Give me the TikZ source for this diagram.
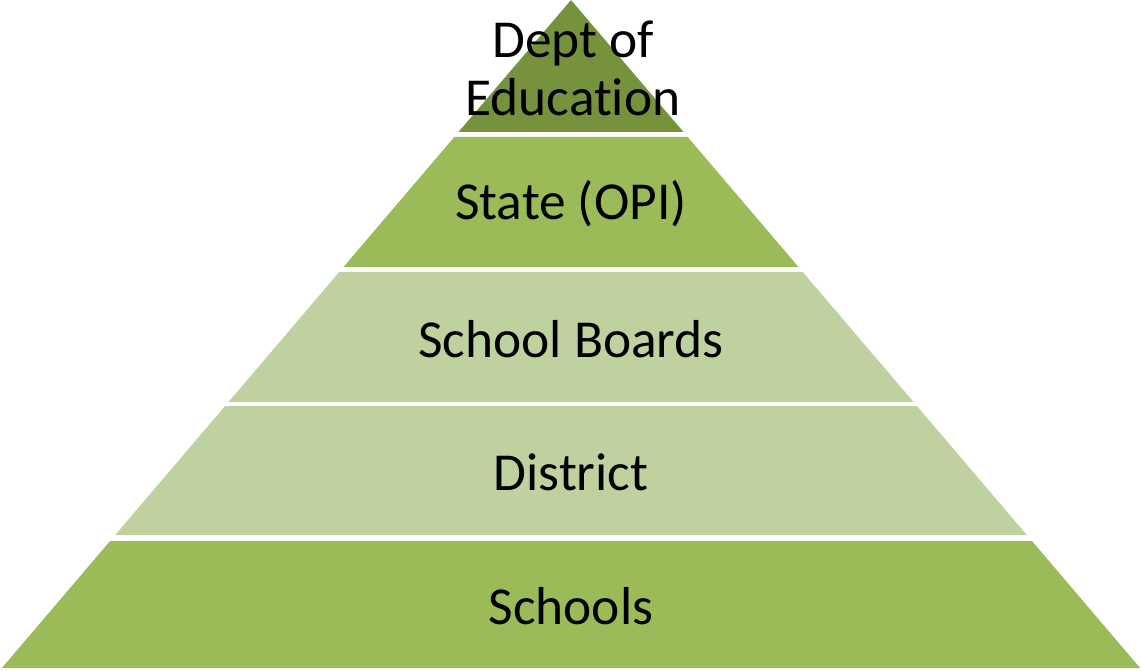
\documentclass[tikz,border=0pt]{standalone}
\usepackage{fontspec}
\setmainfont[Ligatures=NoCommon]{Carlito}
\definecolor{darkolive}{HTML}{76923C}
\definecolor{olive}{HTML}{9BBB59}
\definecolor{lightolive}{HTML}{BED19F}
\tikzset{
  lbl/.style={font=\fontsize{53.4}{58}\selectfont, text=black, align=center, inner sep=0pt}
}
\begin{document}
\begin{tikzpicture}[x=1pt,y=-1pt]
\useasboundingbox (0,0) rectangle (1141,671);
% layers
\fill[darkolive] (571,0) -- (683.5,132) -- (458.5,132) -- cycle;
\fill[olive] (454.3,137) -- (687.7,137) -- (798.5,267) -- (343.5,267) -- cycle;
\fill[lightolive] (339.3,272) -- (802.7,272) -- (913.5,402) -- (228.5,402) -- cycle;
\fill[lightolive] (225.1,406) -- (916.9,406) -- (1026.8,535) -- (115.2,535) -- cycle;
\fill[olive] (110.1,541) -- (1031.9,541) -- (1140.1,668) -- (1.9,668) -- cycle;
% labels
\node[lbl] (dept) at (573,68) {Dept of\\Education};
\node[lbl] (state) at (571,204) {State (OPI)};
\node[lbl] (boards) at (571,339) {School Boards};
\node[lbl] (district) at (571,472) {District};
\node[lbl] (schools) at (571,606) {Schools};
\end{tikzpicture}
\end{document}
